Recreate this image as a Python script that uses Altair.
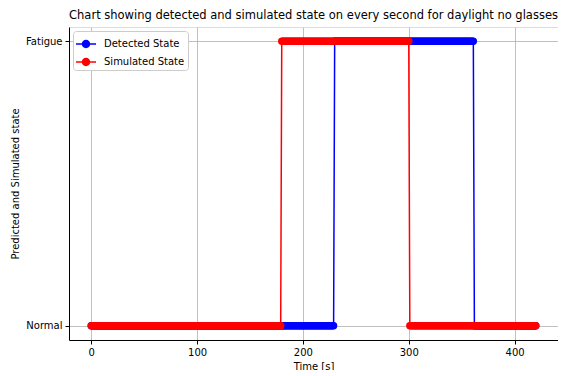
import altair as alt
import pandas as pd

# Runs of state: (start second, end second, state)
detected_starts = [0, 230, 362]
detected_ends = [229, 361, 420]
detected_states = ["Normal", "Fatigue", "Normal"]

simulated_starts = [0, 180, 301]
simulated_ends = [179, 300, 420]
simulated_states = ["Normal", "Fatigue", "Normal"]

state_code = {"Normal": 0, "Fatigue": 1}
series_names = ["Detected State", "Simulated State"]
series_colors = ["blue", "red"]


def expand(name, starts, ends, states):
    rows = []
    for s, e, st in zip(starts, ends, states):
        for t in range(s, e + 1):
            rows.append({"series": name, "t": t, "state": state_code[st]})
    return rows


df = pd.DataFrame(
    expand("Detected State", detected_starts, detected_ends, detected_states)
    + expand("Simulated State", simulated_starts, simulated_ends, simulated_states)
)

FONT = "DejaVu Sans"

x = alt.X(
    "t:Q",
    scale=alt.Scale(domain=[-21, 441], nice=False, zero=False),
    axis=alt.Axis(
        title="Time [s]",
        values=[0, 100, 200, 300, 400],
        grid=True,
        gridColor="#b0b0b0",
        gridWidth=0.8,
        tickColor="black",
        tickSize=4,
        domainColor="black",
        labelFontSize=10,
        titleFontSize=10,
        titleFontWeight="normal",
        labelColor="black",
        titleColor="black",
        labelFont=FONT,
        titleFont=FONT,
        labelPadding=3,
        titlePadding=4,
    ),
)
y = alt.Y(
    "state:Q",
    scale=alt.Scale(domain=[-0.05, 1.05], nice=False, zero=False),
    axis=alt.Axis(
        title="Predicted and Simulated state",
        values=[0, 1],
        labelExpr="datum.value == 1 ? 'Fatigue' : 'Normal'",
        grid=True,
        gridColor="#b0b0b0",
        gridWidth=0.8,
        tickColor="black",
        tickSize=4,
        domainColor="black",
        labelFontSize=10,
        titleFontSize=10,
        titleFontWeight="normal",
        labelColor="black",
        titleColor="black",
        labelFont=FONT,
        titleFont=FONT,
        labelPadding=3,
        titlePadding=5,
    ),
)

legend_path = (
    "M-1,-0.075L1,-0.075L1,0.075L-1,0.075Z "
    "M0.42,0A0.42,0.42 0 1,1 -0.42,0A0.42,0.42 0 1,1 0.42,0Z"
)

color = alt.Color(
    "series:N",
    scale=alt.Scale(domain=series_names, range=series_colors),
    legend=alt.Legend(
        title=None,
        orient="top-left",
        offset=4,
        symbolType=legend_path,
        symbolSize=400,
        symbolStrokeWidth=0,
        symbolOpacity=1,
        labelFontSize=10,
        labelFont=FONT,
        labelColor="black",
        labelOffset=8,
        rowPadding=3,
        padding=3,
        strokeColor="#cccccc",
        fillColor="white",
        cornerRadius=3,
    ),
)

base = alt.Chart(df)
layers = []
for name, col in zip(series_names, series_colors):
    sub = base.transform_filter(alt.datum.series == name)
    layers.append(
        sub.mark_line(strokeWidth=1.5, color=col).encode(x=x, y=y, order="t:Q")
    )
    layers.append(
        sub.mark_circle(size=55, opacity=1).encode(x=x, y=y, color=color)
    )

chart = (
    alt.layer(*layers)
    .properties(
        width=489,
        height=313,
        title=alt.TitleParams(
            "Chart showing detected and simulated state on every second for daylight no glasses",
            font=FONT,
            fontSize=11.5,
            fontWeight="normal",
            color="black",
            offset=6,
        ),
        autosize=alt.AutoSizeParams(type="none"),
        padding={"left": 61, "top": 19, "right": 0, "bottom": 30},
    )
    .configure_view(stroke="black", strokeWidth=1)
    .configure(background="white")
)

chart.save("out.html", embed_options={"renderer": "svg", "actions": False})
